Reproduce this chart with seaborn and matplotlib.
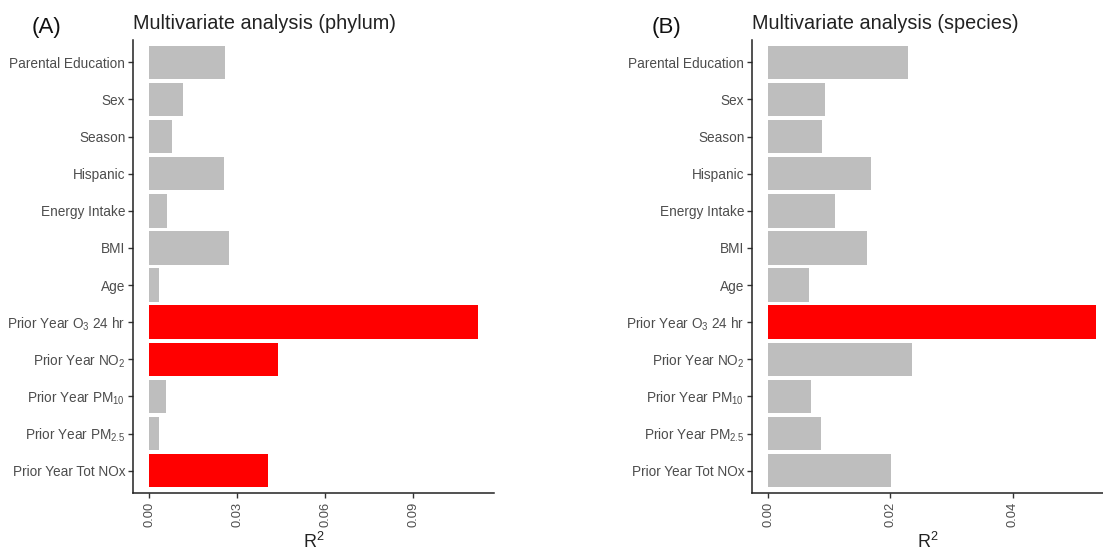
import matplotlib
matplotlib.use("Agg")
import matplotlib.pyplot as plt
import seaborn as sns
import pandas as pd

# predictors, top to bottom
labels = ["Parental Education", "Sex", "Season", "Hispanic", "Energy Intake", "BMI", "Age",
          "Prior Year O$_3$ 24 hr", "Prior Year NO$_2$", "Prior Year PM$_{10}$",
          "Prior Year PM$_{2.5}$", "Prior Year Tot NOx"]

r2_phylum = [0.0259, 0.0116, 0.0078, 0.0253, 0.0061, 0.0270, 0.0034,
             0.1120, 0.0437, 0.0055, 0.0034, 0.0403]
sig_phylum = [False, False, False, False, False, False, False,
              True, True, False, False, True]

r2_species = [0.0228, 0.0093, 0.0088, 0.0168, 0.0109, 0.0162, 0.0067,
              0.0537, 0.0236, 0.0070, 0.0086, 0.0201]
sig_species = [False, False, False, False, False, False, False,
               True, False, False, False, False]

xticks_phylum = [0.00, 0.03, 0.06, 0.09]
xticks_species = [0.00, 0.02, 0.04]

sns.set_theme(style="ticks")
plt.rcParams["font.family"] = ["Liberation Sans", "DejaVu Sans"]
plt.rcParams["mathtext.fontset"] = "custom"
plt.rcParams["mathtext.rm"] = "Liberation Sans"
plt.rcParams["mathtext.it"] = "Liberation Sans:italic"
plt.rcParams["mathtext.bf"] = "Liberation Sans:bold"

GREY = "#bebebe"
RED = "#ff0000"
TXT = "#4d4d4d"

fig = plt.figure(figsize=(11.03, 5.53), dpi=100)
W, H = 1103, 553
top, bottom = 40, 493

panels = [
    ("(A)", 32, "Multivariate analysis (phylum)", r2_phylum, sig_phylum, xticks_phylum,
     133, 493.6, (-0.0056, 0.1174)),
    ("(B)", 652, "Multivariate analysis (species)", r2_species, sig_species, xticks_species,
     752, 1103, (-0.00267, 0.0548)),
]

for tag, tag_x, title, vals, sig, ticks, left, right, xlim in panels:
    ax = fig.add_axes([left / W, 1 - bottom / H, (right - left) / W, (bottom - top) / H])
    df = pd.DataFrame({"label": labels, "r2": vals})
    pal = {l: (RED if s else GREY) for l, s in zip(labels, sig)}
    sns.barplot(data=df, x="r2", y="label", hue="label", palette=pal, order=labels,
                legend=False, width=0.9, saturation=1, ax=ax, edgecolor="none")
    ax.set_xlim(*xlim)
    ax.set_ylim(len(labels) - 0.4, -0.6)
    ax.set_xticks(ticks)
    ax.set_xticklabels([f"{t:.2f}" for t in ticks], rotation=90, color=TXT, fontsize=9.3)
    ax.tick_params(axis="y", labelsize=9.8, labelcolor=TXT, length=3.5, width=1, pad=2, color="#333333")
    ax.tick_params(axis="x", length=3.5, width=1, pad=3, color="#333333")
    ax.set_ylabel("")
    ax.set_xlabel("R$^2$", fontsize=13, color="#222222")
    ax.xaxis.set_label_coords(0.5, (bottom - 542) / (bottom - top))
    ax.xaxis.label.set_va("center")
    for s in ["top", "right"]:
        ax.spines[s].set_visible(False)
    for s in ["left", "bottom"]:
        ax.spines[s].set_color("#222222")
        ax.spines[s].set_linewidth(1.1)
    ax.set_title(title, loc="left", fontsize=14.3, color="#222222", pad=8)
    fig.text(tag_x / W, 1 - 27.5 / H, tag, fontsize=16, color="#111111", va="center", ha="left")

fig.savefig("out.png", dpi=100)
